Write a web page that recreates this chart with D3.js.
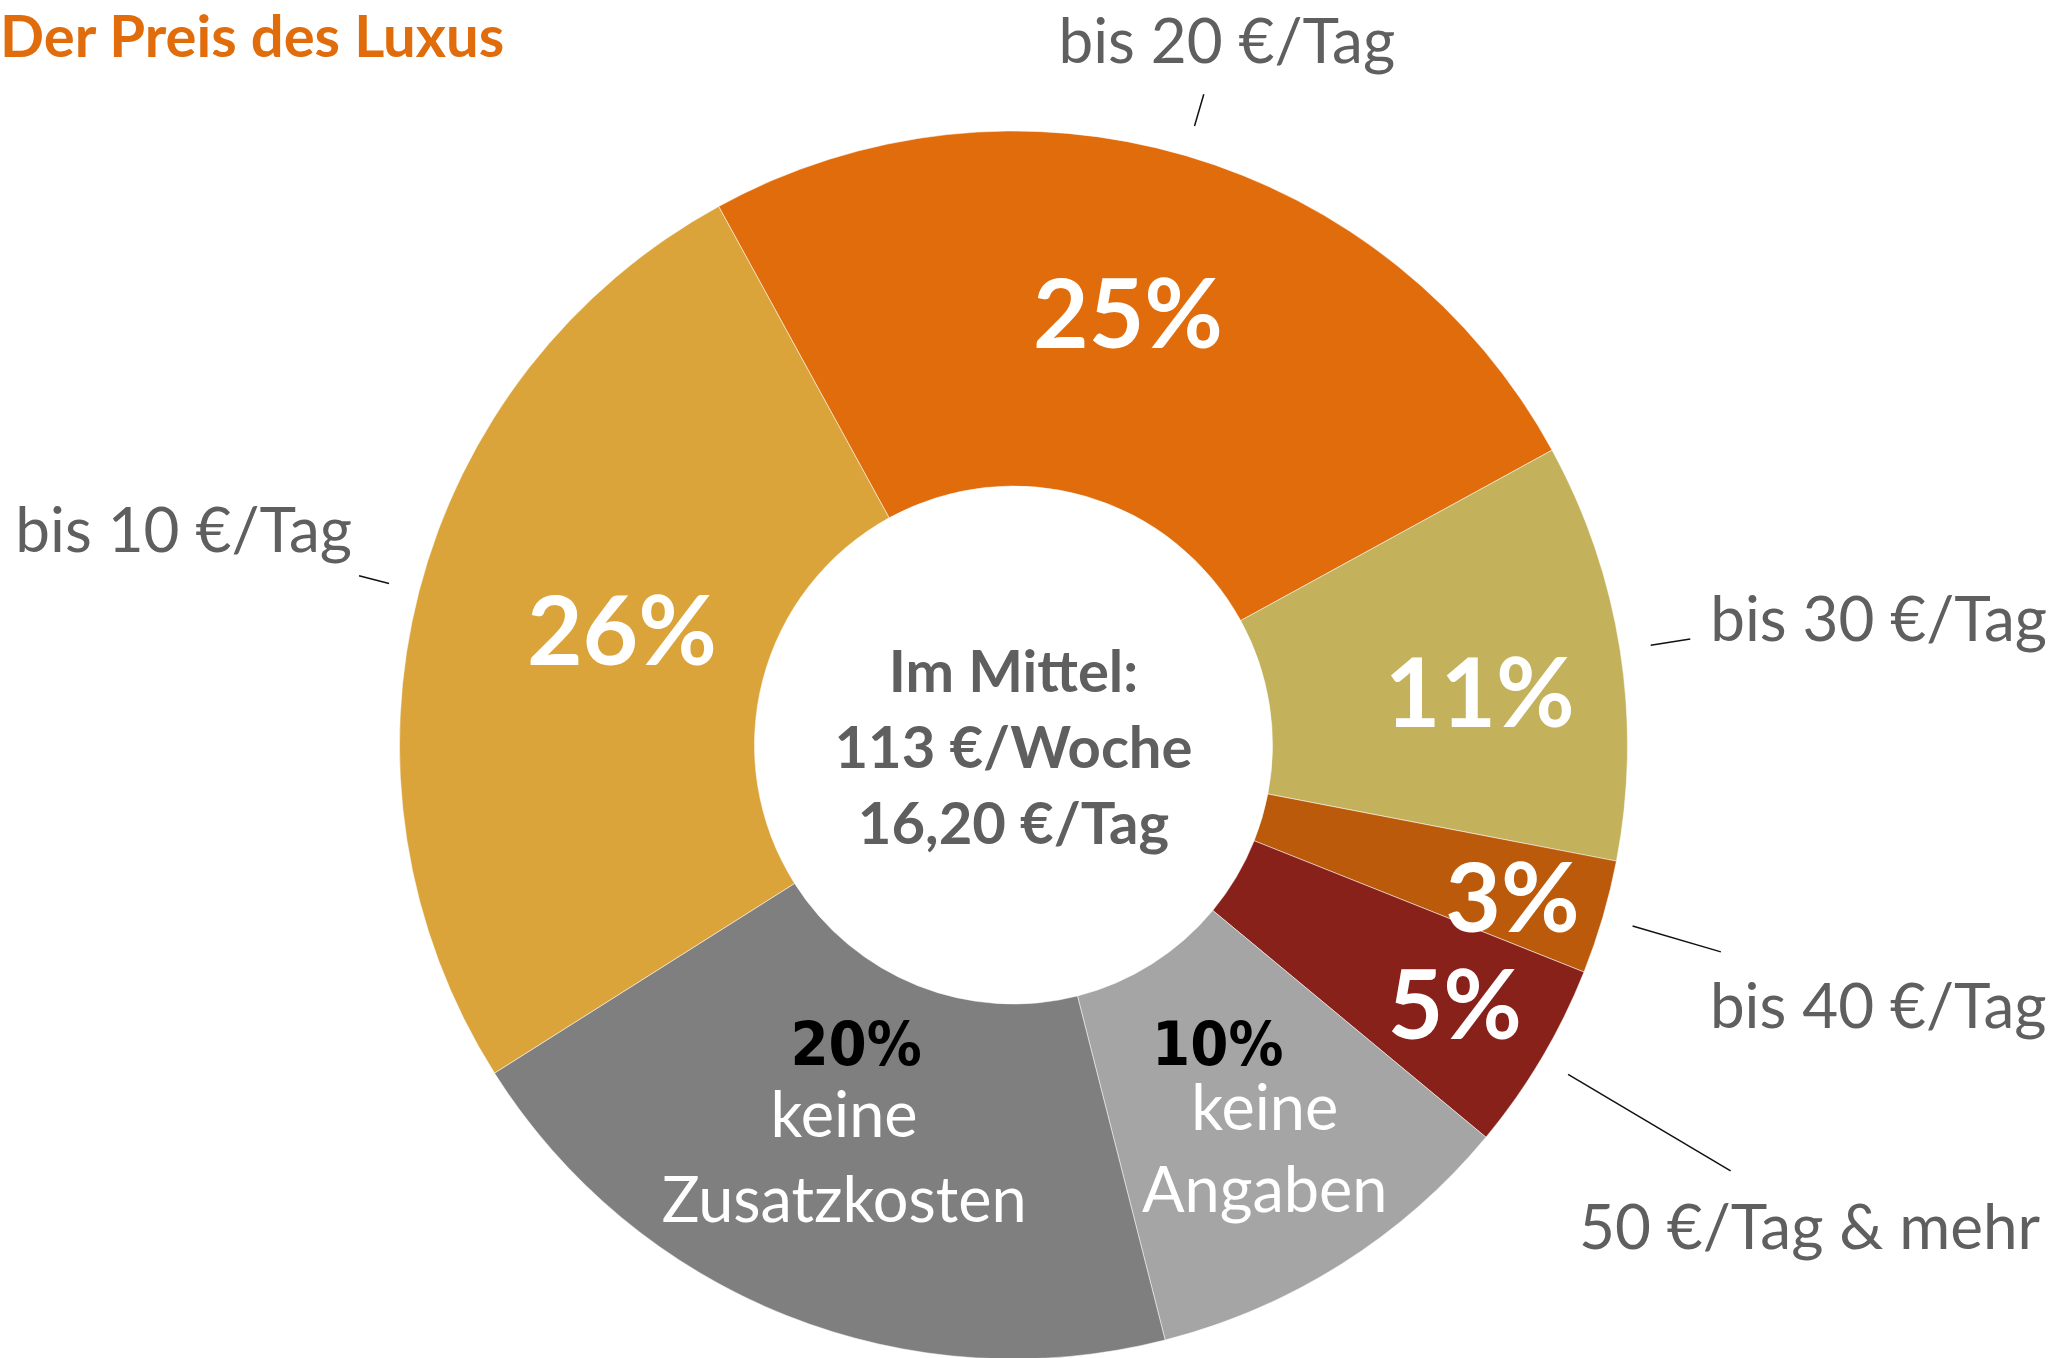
<!DOCTYPE html>
<html>
<head>
<meta charset="utf-8">
<script src="https://cdn.jsdelivr.net/npm/d3@7"></script>
<style>
  html, body { margin: 0; padding: 0; background: #fff; }
  svg { display: block; }
</style>
</head>
<body>
<div id="chart"></div>
<script>
// data, clockwise from the top
var categories = ["bis 20 €/Tag", "bis 30 €/Tag", "bis 40 €/Tag", "50 €/Tag & mehr", "keine Angaben", "keine Zusatzkosten", "bis 10 €/Tag"];
var values = [25, 11, 3, 5, 10, 20, 26];
var pctLabels = ["25%", "11%", "3%", "5%", "10%", "20%", "26%"];
var innerNames = [null, null, null, null, ["keine", "Angaben"], ["keine", "Zusatzkosten"], null];
var outerNames = ["bis 20 €/Tag", "bis 30 €/Tag", "bis 40 €/Tag", "50 €/Tag & mehr", null, null, "bis 10 €/Tag"];
var centerLines = ["Im Mittel:", "113 €/Woche", "16,20 €/Tag"];
var title = "Der Preis des Luxus";

var width = 2061;
var height = 1358;
var cx = 1013.5, cy = 745;
var outerR = 614, innerR = 259;
var font = "Lato, 'Open Sans', sans-serif";

var color = d3.scaleOrdinal()
  .domain(categories)
  .range(["#e06c0c", "#c3b15b", "#bb5a0a", "#88211a", "#a5a5a5", "#7e7f7e", "#dba43a"]);

// label placement tweaks (offsets from the arc centroid / leader end)
var inLayout = {
  "bis 20 €/Tag": {dx: -8, dy: -13},
  "bis 30 €/Tag": {dx: 35, dy: 15},
  "bis 40 €/Tag": {dx: 80, dy: 30},
  "50 €/Tag & mehr": {dx: 66, dy: 37},
  "keine Angaben": {dx: 18, dy: 16, pdx: -47, pdy: -65, ndy: 82},
  "keine Zusatzkosten": {dx: -8, dy: -14, pdx: 12, pdy: -72, ndy: 85},
  "bis 10 €/Tag": {dx: 31, dy: -5}
};
var outLayout = {
  "bis 20 €/Tag": {r: 678, dx: 23, dy: -31, anchor: "middle"},
  "bis 30 €/Tag": {r: 685, dx: 20, dy: 2, anchor: "start"},
  "bis 40 €/Tag": {r: 737, dx: -11, dy: 76, anchor: "start"},
  "50 €/Tag & mehr": {r: 834, dx: 79, dy: 78, anchor: "middle"},
  "bis 10 €/Tag": {r: 676, dx: -7, dy: -24, anchor: "end"}
};

var rows = categories.map(function (c, i) {
  return {name: c, value: values[i], pct: pctLabels[i], inner: innerNames[i], outer: outerNames[i]};
});

var svg = d3.select("#chart").append("svg")
  .attr("width", width)
  .attr("height", height);

svg.append("text")
  .attr("x", 0)
  .attr("y", 57)
  .attr("font-family", font)
  .attr("font-weight", "bold")
  .attr("font-size", 58)
  .attr("fill", "#e06c0c")
  .text(title);

var start = -28.7 * Math.PI / 180;
var pie = d3.pie()
  .sort(null)
  .value(function (d) { return d.value; })
  .startAngle(start)
  .endAngle(start + 2 * Math.PI);

var arcs = pie(rows);

var arc = d3.arc().innerRadius(innerR).outerRadius(outerR);
var midArc = d3.arc().innerRadius((innerR + outerR) / 2).outerRadius((innerR + outerR) / 2);

var g = svg.append("g").attr("transform", "translate(" + cx + "," + cy + ")");

g.selectAll("path.slice")
  .data(arcs)
  .enter()
  .append("path")
  .attr("class", "slice")
  .attr("d", arc)
  .attr("fill", function (d) { return color(d.data.name); })
  .attr("stroke", "#fff")
  .attr("stroke-opacity", 0.5)
  .attr("stroke-width", 1);

// percentage labels in the ring
arcs.forEach(function (d) {
  var c = midArc.centroid(d);
  var l = inLayout[d.data.name];
  var x = c[0] + l.dx, y = c[1] + l.dy;
  if (d.data.inner) {
    g.append("text")
      .attr("x", x + l.pdx)
      .attr("y", y + l.pdy)
      .attr("text-anchor", "middle")
      .attr("font-family", "'Liberation Sans Narrow', 'DejaVu Sans Condensed', sans-serif")
      .attr("font-stretch", "condensed")
      .attr("font-weight", "bold")
      .attr("font-size", 61)
      .attr("fill", "#000")
      .text(d.data.pct);
    d.data.inner.forEach(function (line, k) {
      g.append("text")
        .attr("x", x)
        .attr("y", y + k * l.ndy)
        .attr("text-anchor", "middle")
        .attr("font-family", font)
        .attr("font-size", 63)
        .attr("fill", "#fff")
        .text(line);
    });
  } else {
    g.append("text")
      .attr("x", x)
      .attr("y", y)
      .attr("dy", "0.36em")
      .attr("text-anchor", "middle")
      .attr("font-family", font)
      .attr("font-weight", "bold")
      .attr("font-size", 96)
      .attr("fill", "#fff")
      .text(d.data.pct);
  }
});

// outside labels with short radial leaders
arcs.filter(function (d) { return d.data.outer; }).forEach(function (d) {
  var l = outLayout[d.data.name];
  var a = (d.startAngle + d.endAngle) / 2;
  var p0 = [Math.sin(a) * 645, -Math.cos(a) * 645];
  var p1 = [Math.sin(a) * l.r, -Math.cos(a) * l.r];
  g.append("line")
    .attr("x1", p0[0]).attr("y1", p0[1])
    .attr("x2", p1[0]).attr("y2", p1[1])
    .attr("stroke", "#111")
    .attr("stroke-width", 1.5);
  g.append("text")
    .attr("x", p1[0] + l.dx)
    .attr("y", p1[1] + l.dy)
    .attr("text-anchor", l.anchor)
    .attr("font-family", font)
    .attr("font-size", 62)
    .attr("fill", "#5f5f5f")
    .text(d.data.outer);
});

// centre text
g.selectAll("text.center")
  .data(centerLines)
  .enter()
  .append("text")
  .attr("class", "center")
  .attr("x", 0)
  .attr("y", function (d, i) { return -53 + i * 76; })
  .attr("text-anchor", "middle")
  .attr("font-family", font)
  .attr("font-weight", "bold")
  .attr("font-size", 58)
  .attr("fill", "#5f5f5f")
  .text(function (d) { return d; });
</script>
</body>
</html>
